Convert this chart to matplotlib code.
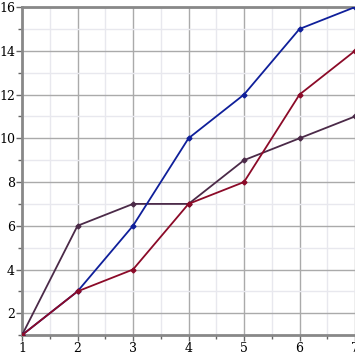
import matplotlib
matplotlib.use("Agg")
import matplotlib.pyplot as plt
from matplotlib.ticker import MultipleLocator

x = [1, 2, 3, 4, 5, 6, 7]
blue = [1, 3, 6, 10, 12, 15, 16]
red = [1, 3, 4, 7, 8, 12, 14]
purple = [1, 6, 7, 7, 9, 10, 11]

plt.rcParams["font.family"] = "DejaVu Serif"

fig = plt.figure(figsize=(3.55, 3.55), dpi=100)
ax = fig.add_axes([0.062, 0.056, 0.938, 0.924])

ax.plot(x, purple, color="#4b2a48", lw=1.3, marker="D", ms=2.5, zorder=3)
ax.plot(x, blue, color="#0f1f9a", lw=1.3, marker="D", ms=2.5, zorder=3)
ax.plot(x, red, color="#8b0a28", lw=1.3, marker="D", ms=2.5, zorder=3)

ax.set_xlim(1, 7)
ax.set_ylim(1, 16)
ax.set_xticks(x)
ax.set_yticks([2, 4, 6, 8, 10, 12, 14, 16])
ax.xaxis.set_minor_locator(MultipleLocator(0.5))
ax.yaxis.set_minor_locator(MultipleLocator(1))

ax.grid(which="major", color="#aaaaaa", lw=1.0)
ax.grid(which="minor", color="#e8e8ee", lw=1.0)
ax.set_axisbelow(True)

for side in ["left", "top", "bottom"]:
    ax.spines[side].set_color("#888888")
    ax.spines[side].set_linewidth(2)
ax.spines["right"].set_visible(False)

ax.tick_params(which="major", length=4, width=1, color="#666666",
               labelsize=9, pad=1, top=False, right=False)
ax.tick_params(which="minor", length=3, width=1, color="#666666")

fig.savefig("out.png", dpi=100)
